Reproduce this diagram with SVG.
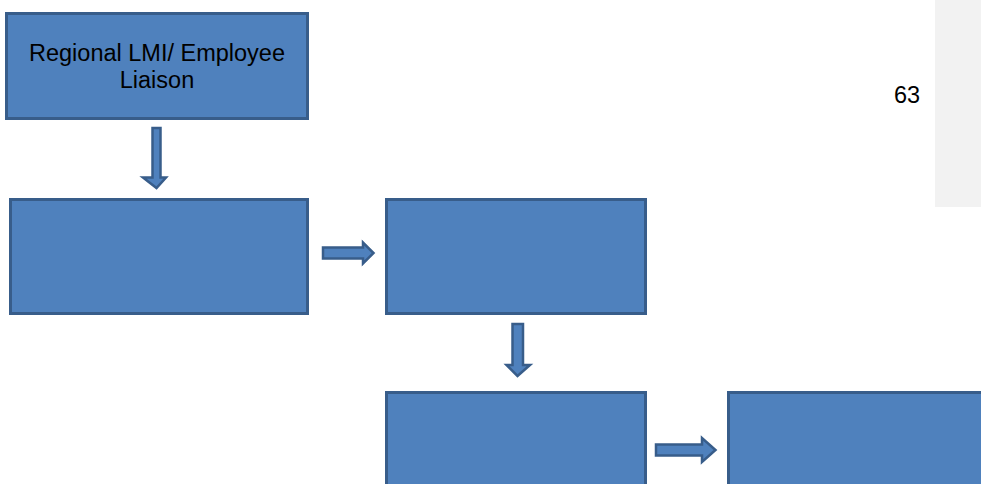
<svg xmlns="http://www.w3.org/2000/svg" width="981" height="484" viewBox="0 0 981 484">
  <style>
    .box { fill: #4f81bd; stroke: #385d8a; stroke-width: 3; }
    .arrow { fill: #4f81bd; stroke: #385d8a; stroke-width: 2.5; stroke-linejoin: miter; }
    .label { font-family: "Liberation Sans", Arial, sans-serif; font-size: 23.5px; fill: #000000; text-anchor: middle; }
  </style>
  <rect x="0" y="0" width="981" height="484" fill="#ffffff"/>
  <rect id="side-panel" x="935" y="0" width="46" height="207" fill="#f2f2f2"/>
  <text id="page-number" class="label" x="907" y="103">63</text>

  <g id="node-liaison">
    <rect class="box" x="6.5" y="13.5" width="301" height="105"/>
    <text class="label" x="157" y="61">Regional LMI/ Employee</text>
    <text class="label" x="157" y="88">Liaison</text>
  </g>
  <g id="node-2">
    <rect class="box" x="10.5" y="199.5" width="297" height="114"/>
  </g>
  <g id="node-3">
    <rect class="box" x="386.5" y="199.5" width="259" height="114"/>
  </g>
  <g id="node-4">
    <rect class="box" x="386.5" y="392.5" width="259" height="120"/>
  </g>
  <g id="node-5">
    <rect class="box" x="728.5" y="392.5" width="300" height="120"/>
  </g>

  <g id="connectors">
    <path class="arrow" d="M152.5,128 L160.5,128 L160.5,177.5 L166,177.5 L156.5,188 L143,177.5 L152.5,177.5 Z"/>
    <path class="arrow" d="M323,247.5 L363,247.5 L363,242.5 L373.5,253 L363,263.5 L363,258.5 L323,258.5 Z"/>
    <path class="arrow" d="M512.5,324 L523,324 L523,365 L530,365 L517.5,376 L506.5,365 L512.5,365 Z"/>
    <path class="arrow" d="M656,444.5 L702,444.5 L702,438 L715.5,450 L702,462 L702,455.5 L656,455.5 Z"/>
  </g>
</svg>
